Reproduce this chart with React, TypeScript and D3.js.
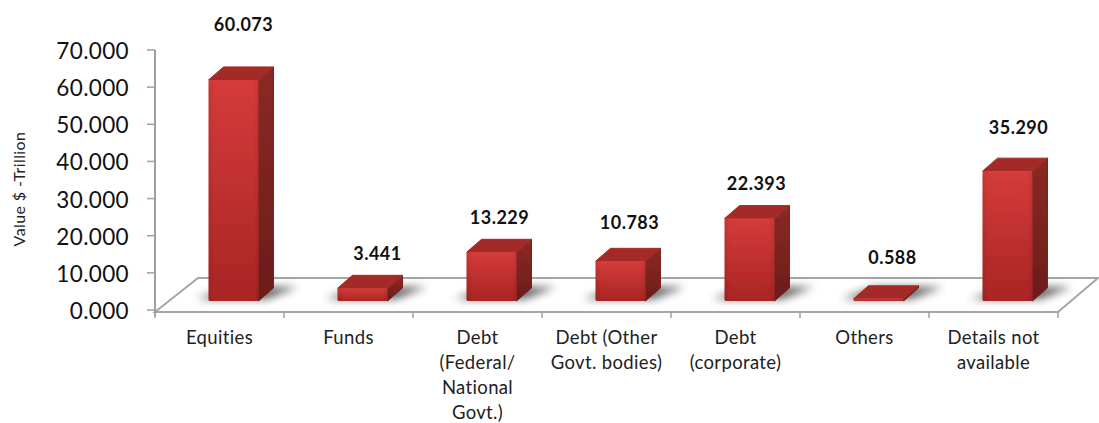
import React from "react";
import * as d3 from "d3";

const categories = ["Equities", "Funds", "Debt (Federal/ National Govt.)", "Debt (Other Govt. bodies)", "Debt (corporate)", "Others", "Details not available"];
const categoryLines = [["Equities"], ["Funds"], ["Debt", "(Federal/", "National", "Govt.)"], ["Debt (Other", "Govt. bodies)"], ["Debt", "(corporate)"], ["Others"], ["Details not", "available"]];
const values = [60.073, 3.441, 13.229, 10.783, 22.393, 0.588, 35.29];
const axisTicks = [0, 10, 20, 30, 40, 50, 60, 70];

// hand-placed data label layout of the original chart
const labelShift: [number, number][] = [[10, -49], [15, -28], [8, -28], [9, -32], [7, -29], [14, -35], [11, -37]];

const W = 1099, H = 423;
const axisX = 155, floorFront = 312, dx = 43, dy = 34;
const depthX = 15, depthY = 13, barW = 50;

export default function App() {
  const yAxis = d3.scaleLinear().domain([0, 70]).range([310, 50]);
  const yBar = d3.scaleLinear().domain([0, 70]).range([301, 43.4]);
  const x = d3.scaleBand<string>().domain(categories).range([155, 1058]);
  const xBar = (c: string) => (x(c) as number) + x.bandwidth() / 2 + 14 - barW / 2;
  const line = d3.line();
  const poly = (pts: [number, number][]) => line(pts) + "Z";
  const ticksX = categories.map(c => x(c) as number).concat(1058);

  return (
    <svg width={W} height={H} style={{ position: "absolute", left: 0, top: 0, background: "#fff" }} fontFamily="Lato, Carlito, sans-serif">
      <defs>
        <linearGradient id="front" x1="0" y1="0" x2="0" y2="1">
          <stop offset="0" stopColor="#d53b3a" />
          <stop offset="1" stopColor="#a92524" />
        </linearGradient>
        <linearGradient id="side" x1="0" y1="0" x2="0" y2="1">
          <stop offset="0" stopColor="#8a2a24" />
          <stop offset="1" stopColor="#6c1c19" />
        </linearGradient>
        <linearGradient id="frontH" x1="0" y1="0" x2="1" y2="0">
          <stop offset="0" stopColor="#000" stopOpacity="0.08" />
          <stop offset="0.12" stopColor="#000" stopOpacity="0" />
          <stop offset="0.9" stopColor="#000" stopOpacity="0" />
          <stop offset="1" stopColor="#000" stopOpacity="0.08" />
        </linearGradient>
        <filter id="blur" x="-40%" y="-100%" width="180%" height="300%">
          <feGaussianBlur stdDeviation="4.5" />
        </filter>
        <filter id="soft" x="-5%" y="-5%" width="110%" height="110%">
          <feGaussianBlur stdDeviation="0.7" />
        </filter>
      </defs>

      {/* floor */}
      <path d={poly([[axisX, floorFront], [axisX + dx, floorFront - dy], [1098, floorFront - dy], [1058, floorFront]])} fill="#fff" stroke="#a6a6a6" strokeWidth={2} />

      {/* axis */}
      <line x1={axisX} x2={axisX} y1={yAxis(70)} y2={yAxis(0) + 6} stroke="#a0a0a0" strokeWidth={2} />
      {axisTicks.map(t => (
        <g key={t}>
          <line x1={147} x2={axisX} y1={yAxis(t)} y2={yAxis(t)} stroke="#a0a0a0" strokeWidth={1.5} />
          <text x={129} y={yAxis(t) + 9} textAnchor="end" fontSize={22.5} letterSpacing={0.35} fill="#111">{d3.format(".3f")(t)}</text>
        </g>
      ))}
      {ticksX.map((t, i) => (
        <line key={i} x1={t} x2={t} y1={floorFront} y2={floorFront + 6} stroke="#a0a0a0" strokeWidth={1.5} />
      ))}

      {/* shadows */}
      {categories.map(c => {
        const bx = xBar(c);
        return <path key={c} d={poly([[bx - 12, 299], [bx + barW + 8, 299], [bx + barW + depthX + 24, 287], [bx + 22, 287]])} fill="#444" opacity={0.85} filter="url(#blur)" />;
      })}

      {/* bars */}
      {categories.map((c, i) => {
        const v = values[i];
        const x0 = xBar(c), x1 = x0 + barW;
        const top = yBar(v), base = yBar(0);
        return (
          <g key={c} filter="url(#soft)">
            <path d={poly([[x1, top], [x1 + depthX, top - depthY], [x1 + depthX, base - depthY], [x1, base]])} fill="url(#side)" stroke="#7a2320" strokeWidth={1} strokeLinejoin="round" />
            <path d={poly([[x0, top], [x0 + depthX, top - depthY], [x1 + depthX, top - depthY], [x1, top]])} fill="#a32a27" stroke="#a32a27" strokeWidth={1} strokeLinejoin="round" />
            <rect x={x0} y={top} width={barW} height={base - top} fill="url(#front)" rx={1.5} />
            <rect x={x0} y={top} width={barW} height={base - top} fill="url(#frontH)" rx={1.5} />
          </g>
        );
      })}

      {/* data labels */}
      {categories.map((c, i) => (
        <text key={c} x={xBar(c) + barW / 2 + labelShift[i][0]} y={yBar(values[i]) + labelShift[i][1]} textAnchor="middle" fontSize={18} letterSpacing={0.5} fontWeight={700} fill="#111">
          {d3.format(".3f")(values[i])}
        </text>
      ))}

      {/* category labels */}
      {categories.map((c, i) => (
        <text key={c} textAnchor="middle" fontSize={18.5} letterSpacing={0.35} fill="#222">
          {categoryLines[i].map((l, j) => (
            <tspan key={j} x={(x(c) as number) + x.bandwidth() / 2} y={344 + j * 25}>{l}</tspan>
          ))}
        </text>
      ))}

      {/* axis title */}
      <text transform="translate(25,189) rotate(-90)" textAnchor="middle" fontSize={16} letterSpacing={0.4} fill="#222">Value $ -Trillion</text>
    </svg>
  );
}
